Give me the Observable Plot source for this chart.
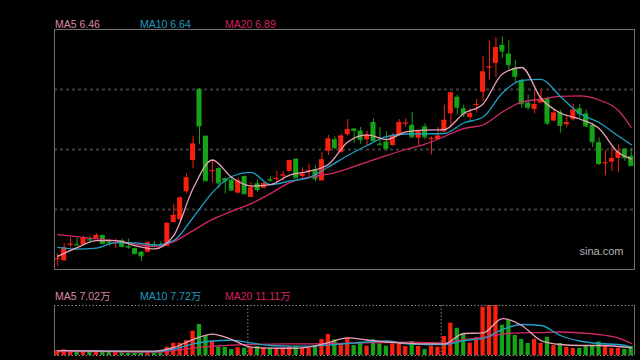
<!DOCTYPE html>
<html><head><meta charset="utf-8">
<script src="https://cdn.jsdelivr.net/npm/d3@7"></script>
<script src="https://cdn.jsdelivr.net/npm/@observablehq/plot@0.6"></script>
<style>
html,body{margin:0;padding:0;background:#000;}
#wrap{position:relative;width:640px;height:360px;background:#000;overflow:hidden;font-family:"Liberation Sans",Arial,"Noto Sans CJK SC",sans-serif;}
#wrap svg{position:absolute;left:0;}
.lbl{position:absolute;font-size:10.5px;white-space:nowrap;line-height:1;}
</style></head><body><div id="wrap"></div>
<script>
// ---- daily candles (price) ----
const open = [5.06,5.04,5.26,5.27,5.26,5.34,5.35,5.39,5.30,5.28, 5.32,5.24,5.21,5.16,5.16,5.27,5.26,5.24,5.57,5.61, 6.00,6.43,7.42,6.77,6.28,6.32,6.18,6.16,5.98,6.21, 5.92,6.11,6.05,6.17,6.17,6.22,6.28,6.45,6.21,6.28, 6.30,6.15,6.56,6.72,6.54,6.79,6.87,6.84,6.72,6.96, 6.66,6.69,6.64,6.78,6.94,6.92,6.74,6.90,6.73,6.72, 6.83,7.08,7.31,7.15,7.03,7.20,7.38,7.72,7.78,8.03, 7.91,7.71,7.54,7.23,7.14,7.23,7.29,6.98,7.10,6.93, 7.00,7.15,7.08,6.92,6.68,6.39,6.41,6.46,6.59,6.49];
const high = [5.14,5.28,5.36,5.36,5.38,5.38,5.42,5.40,5.34,5.34, 5.34,5.34,5.22,5.17,5.31,5.31,5.30,5.57,5.82,5.93, 6.25,6.77,7.43,6.77,6.44,6.34,6.19,6.20,6.19,6.22, 6.13,6.16,6.13,6.21,6.28,6.28,6.44,6.46,6.33,6.38, 6.36,6.54,6.78,6.76,6.80,7.00,6.88,6.89,6.84,7.01, 6.89,6.83,6.81,7.00,7.01,7.10,6.85,6.94,6.76,6.89, 7.20,7.38,7.34,7.20,7.15,7.28,7.88,8.09,8.14,8.15, 8.10,7.82,7.56,7.34,7.40,7.41,7.31,7.14,7.13,7.06, 7.21,7.21,7.13,6.95,6.75,6.57,6.62,6.65,6.60,6.60];
const low = [4.96,5.04,5.22,5.26,5.26,5.28,5.35,5.28,5.24,5.21, 5.22,5.20,5.13,5.03,5.15,5.22,5.23,5.24,5.57,5.60, 5.97,6.32,6.65,6.14,6.12,6.04,5.97,6.01,5.97,5.96, 5.92,5.99,6.04,6.13,6.13,6.15,6.28,6.19,6.19,6.20, 6.14,6.15,6.50,6.58,6.54,6.77,6.67,6.66,6.64,6.70, 6.65,6.56,6.63,6.77,6.89,6.74,6.64,6.72,6.51,6.72, 6.82,6.90,7.06,7.03,6.98,7.09,7.25,7.55,7.58,7.85, 7.69,7.52,7.16,7.13,7.08,7.22,6.92,6.97,6.81,6.89, 6.98,7.00,6.89,6.61,6.36,6.22,6.28,6.27,6.42,6.36];
const close = [5.07,5.22,5.27,5.26,5.35,5.33,5.39,5.28,5.29,5.29, 5.24,5.23,5.14,5.11,5.29,5.26,5.25,5.56,5.67,5.91, 6.19,6.66,6.91,6.15,6.29,6.12,6.15,6.02,6.15,5.97, 6.05,6.03,6.11,6.16,6.18,6.23,6.43,6.19,6.24,6.29, 6.18,6.44,6.73,6.61,6.77,6.86,6.85,6.72,6.78,6.71, 6.65,6.60,6.78,6.96,6.95,6.76,6.83,6.76,6.74,6.77, 6.99,7.37,7.17,7.08,7.08,7.21,7.66,7.73,8.00,7.95, 7.76,7.60,7.22,7.17,7.21,7.28,6.95,7.09,6.92,6.96, 7.13,7.08,6.91,6.69,6.39,6.40,6.46,6.55,6.47,6.36];
// volume in 万
const volume = [4.5,5.2,4.5,3.6,4.5,3.0,3.6,3.0,3.0,3.0, 2.5,2.1,2.1,2.5,3.0,2.1,2.1,7.5,11.2,11.2, 13.6,22.1,28.2,18.2,13.0,7.5,7.5,5.5,7.0,6.6, 6.6,8.2,6.6,6.6,6.6,6.6,8.2,8.2,6.6,6.6, 9.1,14.5,19.1,14.3,10.6,16.1,9.1,12.1,8.5,14.3, 10.6,8.5,10.6,10.6,8.2,12.7,8.2,5.5,8.5,7.5, 17.3,29.4,24.8,19.1,11.2,16.1,43.9,45.5,45.5,27.5, 31.8,18.2,14.5,10.9,14.8,10.9,16.6,9.1,10.9,7.3, 6.4,6.4,8.2,9.1,12.3,8.2,6.4,6.4,5.5,8.2];

// ---- moving-average lines, at these candle indices ----
const maIndex = [0,3,6,9,12,15,18,21,24,27,30,33,36,39,42,45,48,51,54,57,60,63,66,69,72,75,78,81,84,87,89];
const ma5  = [5.103,5.224,5.321,5.321,5.251,5.205,5.390,6.043,6.439,6.196,6.078,6.098,6.230,6.282,6.376,6.689,6.789,6.723,6.828,6.855,6.862,7.085,7.217,7.633,7.723,7.293,7.092,7.008,6.876,6.543,6.455];
const ma10 = [5.228,5.203,5.217,5.293,5.289,5.258,5.321,5.640,5.987,6.210,6.269,6.098,6.147,6.196,6.342,6.501,6.640,6.765,6.800,6.803,6.807,6.953,7.036,7.369,7.543,7.557,7.321,7.085,6.960,6.772,6.650];
const ma20 = [5.404,5.376,5.344,5.321,5.272,5.240,5.307,5.460,5.615,5.726,5.835,5.973,6.126,6.200,6.242,6.317,6.411,6.501,6.585,6.661,6.765,6.876,6.925,7.105,7.244,7.282,7.321,7.328,7.272,7.126,6.890];
const vma5  = [4.5,4.3,4.1,3.9,3.9,3.9,7.3,14.5,19.5,14.5,7.7,6.8,6.6,7.7,11.8,16.1,14.1,12.3,11.2,10.5,10.6,20.0,20.5,33.6,27.3,13.6,10.0,9.1,9.1,8.2,7.0];
const vma10 = [4.5,4.3,4.1,3.9,3.6,3.6,5.9,10.5,13.2,13.9,11.5,9.1,8.6,8.5,9.4,10.9,12.3,13.2,10.6,10.0,10.0,13.6,15.5,23.6,28.2,27.3,18.2,13.2,10.9,10.0,7.7];
const vma20 = [3.6,3.6,3.5,3.4,3.2,3.0,4.5,6.8,8.4,9.5,10.0,10.4,10.6,10.6,10.9,11.2,11.6,11.8,12.1,11.8,11.5,14.5,16.4,19.5,20.6,20.9,21.4,20.6,19.1,15.9,11.1];

// ---- labels ----
const maNames = ["MA5","MA10","MA20"];
const priceMaLast = ["6.46","6.64","6.89"];
const volMaLast = ["7.02万","7.72万","11.11万"];
const monthBreaks = [29.5, 59.5];
const source = "sina.com";

// ---- styling ----
const RED = "#f8200f", GREEN = "#17a317";
const lineColors = ["#eaa2b7","#1fa0c6","#d3286a"];
const labelColors = ["#dc88a3","#1d9cc2","#d8225f"];

const candles = open.map((o,i)=>({i, o, h: high[i], l: low[i], c: close[i], v: volume[i], col: close[i] >= o ? RED : GREEN}));
const xDomain = [-0.5, open.length - 0.5];
const yDomain = [4.92, 8.25];
const gridY = [1,2,3].map(k => yDomain[0] + (yDomain[1]-yDomain[0]) * k / 4);
const vDomain = [0, d3.max(volume)];
const BW = 0.39, VW = 0.33;

function maLine(arr, color, w) {
  return Plot.line(maIndex, {x: d => d, y: (d, j) => arr[j], stroke: color, strokeWidth: w, curve: "monotone-x"});
}

const main = Plot.plot({
  width: 640, height: 275, marginLeft: 54, marginRight: 6, marginTop: 29, marginBottom: 6,
  style: {background: "transparent", fontFamily: "'Liberation Sans', Arial, sans-serif"},
  x: {domain: xDomain, axis: null},
  y: {domain: yDomain, axis: null},
  color: {type: "identity"},
  marks: [
    Plot.ruleY(gridY, {stroke: "#3e3e3e", strokeWidth: 2, strokeDasharray: "3,3"}),
    Plot.ruleX(candles, {x: "i", y1: "l", y2: "h", stroke: "col", strokeWidth: 1}),
    Plot.rect(candles, {x1: d => d.i - BW, x2: d => d.i + BW, y1: "o", y2: "c", fill: "col"}),
    Plot.ruleY(candles, {x1: d => d.i - BW, x2: d => d.i + BW, y: "c", stroke: "col"}),
    maLine(ma20, lineColors[2], 1.3),
    maLine(ma10, lineColors[1], 1.3),
    maLine(ma5, lineColors[0], 1.3),
    Plot.frame({stroke: "#707070"}),
    Plot.text([source], {frameAnchor: "bottom-right", dx: -11, dy: -15, fill: "#b0b0b0", fontSize: 11})
  ]
});
main.style.top = "0px";

const vol = Plot.plot({
  width: 640, height: 85, marginLeft: 54, marginRight: 6, marginTop: 30, marginBottom: 5,
  style: {background: "transparent"},
  x: {domain: xDomain, axis: null},
  y: {domain: vDomain, axis: null},
  color: {type: "identity"},
  marks: [
    Plot.ruleX(monthBreaks, {stroke: "#8a8a8a", strokeDasharray: "1.5,2"}),
    Plot.rect(candles, {x1: d => d.i - VW, x2: d => d.i + VW, y1: 0, y2: "v", fill: "col"}),
    Plot.line(maIndex, {x: d => d, y: (d, j) => vma20[j], stroke: lineColors[2], strokeWidth: 1.3, curve: "monotone-x"}),
    Plot.line(maIndex, {x: d => d, y: (d, j) => vma10[j], stroke: lineColors[1], strokeWidth: 1.3, curve: "monotone-x"}),
    Plot.line(maIndex, {x: d => d, y: (d, j) => vma5[j], stroke: lineColors[0], strokeWidth: 1.3, curve: "monotone-x"}),
    Plot.ruleY(vDomain, {stroke: "#8a8a8a", strokeDasharray: "1.5,2"}),
    Plot.ruleX(xDomain, {stroke: "#707070"})
  ]
});
vol.style.top = "275px";

const wrap = document.getElementById("wrap");
wrap.appendChild(main);
wrap.appendChild(vol);

const labelX = [55, 140, 225];
function addLabels(values, top) {
  maNames.forEach((n, k) => {
    const el = document.createElement("div");
    el.className = "lbl";
    el.style.left = labelX[k] + "px";
    el.style.top = top + "px";
    el.style.color = labelColors[k];
    el.textContent = n + " " + values[k];
    wrap.appendChild(el);
  });
}
addLabels(priceMaLast, 19);
addLabels(volMaLast, 291);
</script>
</body></html>
